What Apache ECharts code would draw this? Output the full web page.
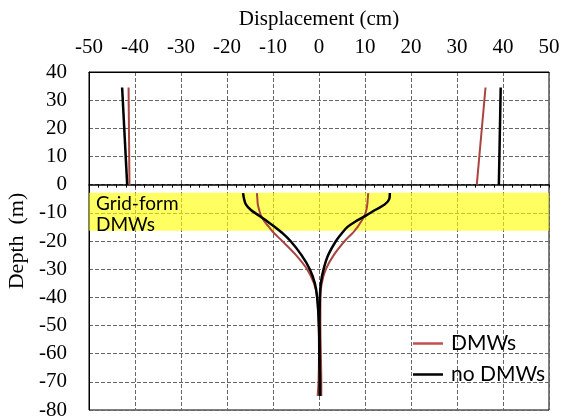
<!DOCTYPE html>
<html>
<head>
<meta charset="utf-8">
<script src="https://cdn.jsdelivr.net/npm/echarts@6/dist/echarts.min.js"></script>
<style>html,body{margin:0;padding:0;background:#fff}#c{width:570px;height:416px}</style>
</head>
<body>
<div id="c"></div>
<script>
// ---- data ----
const xTicks = [-50, 50, 10];          // min, max, step of displacement axis
const yTicks = [-80, 40, 10];          // min, max, step of depth axis
const seriesNames = ['DMWs', 'no DMWs'];
const bandRange = [-2.9, -16.4];       // Grid-form DMWs zone (depth, m)
const bandText = 'Grid-form\nDMWs';

// surface (above ground) segments
const surfDepth = [34.5, 0];
const dmwSurfNeg = [-41.4, -41.2];
const dmwSurfPos = [36.2, 34.3];
const noSurfNeg = [-42.8, -41.7];
const noSurfPos = [39.5, 39.1];

// below-ground profiles
const profDepth = [-3, -5, -7, -9, -11, -13, -15, -17, -20, -25, -30, -35, -40, -50, -60, -70, -75];
const dmwNeg = [-13.5, -13.4, -13.3, -13.0, -12.6, -11.9, -10.9, -9.9, -8.0, -5.0, -2.6, -1.1, -0.4, -0.1, 0.0, -0.1, -0.3];
const dmwPos = [10.7, 10.6, 10.5, 10.3, 9.9, 9.2, 8.4, 7.4, 5.6, 3.2, 1.5, 0.6, 0.3, 0.3, 0.4, 0.5, 0.5];
const noNeg  = [-16.5, -16.3, -15.9, -14.8, -13.0, -11.3, -9.6, -8.1, -6.2, -3.8, -2.0, -0.9, -0.4, 0.0, 0.1, 0.2, 0.2];
const noPos  = [15.4, 15.3, 14.3, 12.2, 10.2, 8.0, 6.2, 5.1, 3.7, 2.0, 1.0, 0.4, 0.2, 0.1, 0.1, 0.2, 0.2];

// ---- build ----
const pairs = (xs, ys) => xs.map((x, i) => [x, ys[i]]);
const RED = '#A9443F', RED_LEG = '#C0504D', BLACK = '#000000';
const sans = 'Lato';
const serif = 'Liberation Serif';

function seg(name, color, width, xs, ys, extra) {
  return Object.assign({
    name: name, type: 'line', xAxisIndex: 0, yAxisIndex: 0,
    data: pairs(xs, ys), symbol: 'none', showSymbol: false,
    smooth: 0.35,
    lineStyle: { color: color, width: width }, itemStyle: { color: color },
    emphasis: { disabled: true }, animation: false, z: 3
  }, extra || {});
}

const series = [
  seg(seriesNames[0], RED, 2, dmwSurfNeg, surfDepth, {
    markArea: {
      silent: true,
      itemStyle: { color: 'rgba(255,255,0,0.62)' },
      label: { show: true, position: 'insideLeft', offset: [2, 3], formatter: bandText,
               color: '#000', fontFamily: sans, fontSize: 19, lineHeight: 21 },
      data: [[{ yAxis: bandRange[0] }, { yAxis: bandRange[1] }]]
    }
  }),
  seg(seriesNames[0], RED, 2, dmwSurfPos, surfDepth),
  seg(seriesNames[0], RED, 2, dmwNeg, profDepth),
  seg(seriesNames[0], RED, 2, dmwPos, profDepth),
  seg(seriesNames[1], BLACK, 2.5, noSurfNeg, surfDepth),
  seg(seriesNames[1], BLACK, 2.5, noSurfPos, surfDepth),
  seg(seriesNames[1], BLACK, 2.5, noNeg, profDepth),
  seg(seriesNames[1], BLACK, 2.5, noPos, profDepth)
];

const option = {
  animation: false,
  backgroundColor: '#fff',
  grid: { left: 89, right: 21, top: 72, bottom: 6, outerBoundsMode: 'none', containLabel: false,
          show: true, borderColor: '#000', borderWidth: 1, backgroundColor: 'transparent' },
  legend: {
    orient: 'vertical', left: 408, top: 328, itemWidth: 30, itemHeight: 2.5, itemGap: 10,
    icon: 'rect',
    textStyle: { fontFamily: sans, fontSize: 21, color: '#000', padding: [0, 0, 0, 3] },
    data: [
      { name: seriesNames[0], itemStyle: { color: RED_LEG } },
      { name: seriesNames[1], itemStyle: { color: BLACK } }
    ],
    selectedMode: false
  },
  xAxis: [
    {
      type: 'value', position: 'top', min: xTicks[0], max: xTicks[1], interval: xTicks[2],
      name: 'Displacement (cm)', nameLocation: 'middle', nameGap: 42,
      nameTextStyle: { fontFamily: serif, fontSize: 21, color: '#000' },
      axisLine: { show: true, onZero: false, lineStyle: { color: '#000', width: 1 } },
      axisTick: { show: false },
      axisLabel: { fontFamily: serif, fontSize: 21, color: '#000', margin: 14 },
      splitLine: { show: true, lineStyle: { color: '#666', width: 1, type: 'dashed' } }
    },
    {
      type: 'value', position: 'bottom', min: xTicks[0], max: xTicks[1], interval: xTicks[2],
      axisLine: { show: true, onZero: true, lineStyle: { color: '#000', width: 1.5 } },
      axisTick: { show: true, length: 3, lineStyle: { color: '#000' } },
      minorTick: { show: true, splitNumber: 5, length: 3, lineStyle: { color: '#000' } },
      axisLabel: { show: false },
      splitLine: { show: false }
    }
  ],
  yAxis: {
    type: 'value', min: yTicks[0], max: yTicks[1], interval: yTicks[2],
    name: 'Depth  (m)', nameLocation: 'middle', nameRotate: 90, nameGap: 56,
    nameTextStyle: { fontFamily: serif, fontSize: 22, color: '#000' },
    axisLine: { show: true, onZero: false, lineStyle: { color: '#000', width: 1 } },
    axisTick: { show: false },
    axisLabel: { fontFamily: serif, fontSize: 21, color: '#000', margin: 22 },
    splitLine: { show: true, lineStyle: { color: '#666', width: 1, type: 'dashed' } }
  },
  series: series
};

const chart = echarts.init(document.getElementById('c'), null, { renderer: 'canvas' });
chart.setOption(option);
</script>
</body>
</html>
